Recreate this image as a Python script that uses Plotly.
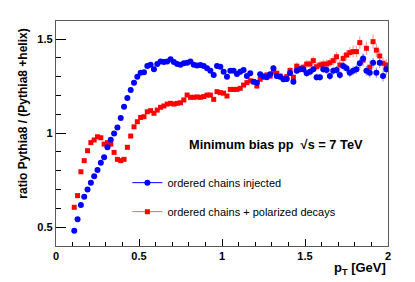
import plotly.graph_objects as go

pt = [0.11, 0.13, 0.15, 0.17, 0.19, 0.21, 0.23, 0.25, 0.27, 0.29,
      0.31, 0.33, 0.35, 0.37, 0.39, 0.41, 0.43, 0.45, 0.47, 0.49,
      0.51, 0.53, 0.55, 0.57, 0.59, 0.61, 0.63, 0.65, 0.67, 0.69,
      0.71, 0.73, 0.75, 0.77, 0.79, 0.81, 0.83, 0.85, 0.87, 0.89,
      0.91, 0.93, 0.95, 0.97, 0.99, 1.01, 1.03, 1.05, 1.07, 1.09,
      1.11, 1.13, 1.15, 1.17, 1.19, 1.21, 1.23, 1.25, 1.27, 1.29,
      1.31, 1.33, 1.35, 1.37, 1.39, 1.41, 1.43, 1.45, 1.47, 1.49,
      1.51, 1.53, 1.55, 1.57, 1.59, 1.61, 1.63, 1.65, 1.67, 1.69,
      1.71, 1.73, 1.75, 1.77, 1.79, 1.81, 1.83, 1.85, 1.87, 1.89,
      1.91, 1.93, 1.95, 1.97, 1.99]

ratio_injected = [0.480, 0.541, 0.617, 0.661, 0.700, 0.736, 0.770, 0.803, 0.842, 0.871,
                  0.924, 0.964, 0.997, 1.030, 1.080, 1.140, 1.186, 1.229, 1.268, 1.300,
                  1.321, 1.324, 1.356, 1.363, 1.339, 1.367, 1.381, 1.378, 1.381, 1.392,
                  1.378, 1.367, 1.363, 1.371, 1.374, 1.381, 1.363, 1.359, 1.362, 1.356,
                  1.344, 1.331, 1.309, 1.356, 1.353, 1.326, 1.300, 1.331, 1.331, 1.314,
                  1.326, 1.335, 1.303, 1.318, 1.273, 1.268, 1.313, 1.300, 1.297, 1.313,
                  1.344, 1.303, 1.300, 1.286, 1.287, 1.320, 1.273, 1.331, 1.339, 1.339,
                  1.318, 1.326, 1.339, 1.297, 1.297, 1.339, 1.335, 1.303, 1.331, 1.335,
                  1.309, 1.356, 1.344, 1.321, 1.331, 1.339, 1.371, 1.397, 1.331, 1.321,
                  1.374, 1.321, 1.374, 1.303, 1.339]

err_injected = [0.003, 0.003, 0.003, 0.003, 0.003, 0.003, 0.003, 0.003, 0.003, 0.003,
                0.003, 0.003, 0.003, 0.003, 0.003, 0.003, 0.003, 0.003, 0.003, 0.003,
                0.003, 0.003, 0.003, 0.003, 0.003, 0.003, 0.003, 0.003, 0.003, 0.003,
                0.005, 0.005, 0.005, 0.005, 0.005, 0.005, 0.005, 0.005, 0.005, 0.005,
                0.006, 0.006, 0.007, 0.007, 0.008, 0.009, 0.010, 0.010, 0.010, 0.011,
                0.011, 0.011, 0.012, 0.012, 0.012, 0.013, 0.013, 0.013, 0.014, 0.014,
                0.015, 0.015, 0.015, 0.016, 0.016, 0.016, 0.017, 0.017, 0.017, 0.018,
                0.018, 0.018, 0.019, 0.019, 0.019, 0.020, 0.020, 0.021, 0.021, 0.022,
                0.022, 0.023, 0.023, 0.024, 0.024, 0.025, 0.025, 0.026, 0.026, 0.027,
                0.027, 0.028, 0.028, 0.029, 0.030]

ratio_polarized = [0.605, 0.667, 0.794, 0.853, 0.906, 0.949, 0.963, 0.980, 0.975, 0.941,
                   0.949, 0.941, 0.897, 0.860, 0.853, 0.860, 0.924, 0.984, 1.033, 1.060,
                   1.083, 1.087, 1.113, 1.119, 1.105, 1.122, 1.137, 1.144, 1.154, 1.158,
                   1.154, 1.158, 1.161, 1.176, 1.202, 1.190, 1.190, 1.192, 1.190, 1.194,
                   1.202, 1.202, 1.179, 1.220, 1.215, 1.212, 1.197, 1.232, 1.232, 1.232,
                   1.238, 1.255, 1.268, 1.278, 1.273, 1.250, 1.286, 1.303, 1.309, 1.303,
                   1.326, 1.318, 1.303, 1.291, 1.300, 1.333, 1.297, 1.356, 1.344, 1.350,
                   1.367, 1.367, 1.385, 1.353, 1.362, 1.367, 1.367, 1.374, 1.385, 1.406,
                   1.362, 1.397, 1.415, 1.428, 1.433, 1.433, 1.481, 1.388, 1.451, 1.350,
                   1.486, 1.441, 1.410, 1.371, 1.362]

err_polarized = [0.003, 0.003, 0.003, 0.003, 0.003, 0.003, 0.003, 0.003, 0.003, 0.003,
                 0.003, 0.003, 0.003, 0.003, 0.003, 0.003, 0.003, 0.003, 0.003, 0.003,
                 0.003, 0.003, 0.003, 0.003, 0.003, 0.003, 0.003, 0.003, 0.003, 0.003,
                 0.005, 0.005, 0.005, 0.005, 0.005, 0.005, 0.005, 0.005, 0.005, 0.005,
                 0.006, 0.006, 0.007, 0.007, 0.008, 0.009, 0.010, 0.010, 0.011, 0.011,
                 0.012, 0.012, 0.012, 0.013, 0.013, 0.014, 0.014, 0.014, 0.015, 0.015,
                 0.016, 0.016, 0.017, 0.017, 0.018, 0.018, 0.019, 0.019, 0.020, 0.020,
                 0.021, 0.021, 0.022, 0.022, 0.023, 0.023, 0.024, 0.024, 0.025, 0.026,
                 0.026, 0.027, 0.028, 0.029, 0.030, 0.031, 0.033, 0.034, 0.035, 0.036,
                 0.038, 0.036, 0.034, 0.032, 0.030]

name_injected = "ordered chains injected"
name_polarized = "ordered chains + polarized decays"
y_tickvals = [0.5, 1, 1.5]
y_ticktext = ["0.5", "1", "1.5"]
x_tickvals = [0, 0.5, 1, 1.5, 2]
x_ticktext = ["0", "0.5", "1", "1.5", "2"]

BLUE = "#0000ff"
RED = "#ff0000"
FONT = "Liberation Sans"
FRAME = "#5a5a5a"

fig = go.Figure()

fig.add_trace(go.Scatter(
    x=pt, y=ratio_polarized, mode="markers", showlegend=False,
    marker=dict(symbol="square", size=5, color=RED),
    error_y=dict(type="data", array=err_polarized, color="rgba(255,80,80,0.55)",
                 thickness=1.2, width=0),
))
fig.add_trace(go.Scatter(
    x=pt, y=ratio_injected, mode="markers", showlegend=False,
    marker=dict(symbol="circle", size=6, color=BLUE),
    error_y=dict(type="data", array=err_injected, color="rgba(60,60,255,0.55)",
                 thickness=1.2, width=0),
))

# legend entries
fig.add_trace(go.Scatter(
    x=[None], y=[None], mode="lines+markers", name=name_injected,
    legendgroup="a", line=dict(color=BLUE, width=1),
    marker=dict(symbol="circle", size=6, color=BLUE),
))
fig.add_trace(go.Scatter(
    x=[None], y=[None], mode="lines+markers", name=name_polarized,
    legendgroup="b", line=dict(color="#ff6060", width=1),
    marker=dict(symbol="square", size=5, color=RED),
))

fig.add_annotation(
    x=0.79, y=0.94, xref="x", yref="y", xanchor="left", yanchor="middle",
    text="<b>Minimum bias pp  √s = 7 TeV</b>", showarrow=False,
    font=dict(family=FONT, size=12.8, color="black"),
)
fig.add_annotation(
    x=1.0, y=-0.098, xref="paper", yref="paper", xanchor="right", yanchor="middle",
    text="<b>p<sub>T</sub> [GeV]</b>", showarrow=False,
    font=dict(family=FONT, size=13, color="black"),
)
fig.add_annotation(
    x=0, y=0.588, xref="paper", yref="paper", xanchor="center", yanchor="middle",
    xshift=-33,
    text="<b>ratio Pythia8 / (Pythia8 +helix)</b>", showarrow=False, textangle=-90,
    font=dict(family=FONT, size=12, color="black"),
)

fig.update_layout(
    width=407, height=274,
    margin=dict(l=48, r=27, t=13, b=36),
    paper_bgcolor="white", plot_bgcolor="white",
    font=dict(family=FONT, color="black"),
    legend=dict(
        x=0.215, y=0.346, xanchor="left", yanchor="top",
        bgcolor="rgba(0,0,0,0)", borderwidth=0,
        font=dict(family=FONT, size=11, color="black"),
        tracegroupgap=10, traceorder="grouped",
    ),
)
fig.update_xaxes(
    range=[0, 2], showgrid=False, zeroline=False,
    showline=True, linecolor=FRAME, linewidth=1.3, mirror=True,
    ticks="inside", ticklen=7, tickcolor="black",
    tickvals=x_tickvals, ticktext=x_ticktext,
    tickfont=dict(family=FONT, size=11, color="black", weight="bold"),
    minor=dict(ticks="inside", ticklen=3.5, dtick=0.1, tickcolor="black", showgrid=False),
)
fig.update_yaxes(
    range=[0.399, 1.596], showgrid=False, zeroline=False,
    showline=True, linecolor=FRAME, linewidth=1.3, mirror=True,
    ticks="inside", ticklen=10, tickcolor="black",
    tickvals=y_tickvals, ticktext=y_ticktext,
    tickfont=dict(family=FONT, size=11, color="black", weight="bold"),
    minor=dict(ticks="inside", ticklen=5, dtick=0.1, tickcolor="black", showgrid=False),
)

fig.write_html("out.html")
